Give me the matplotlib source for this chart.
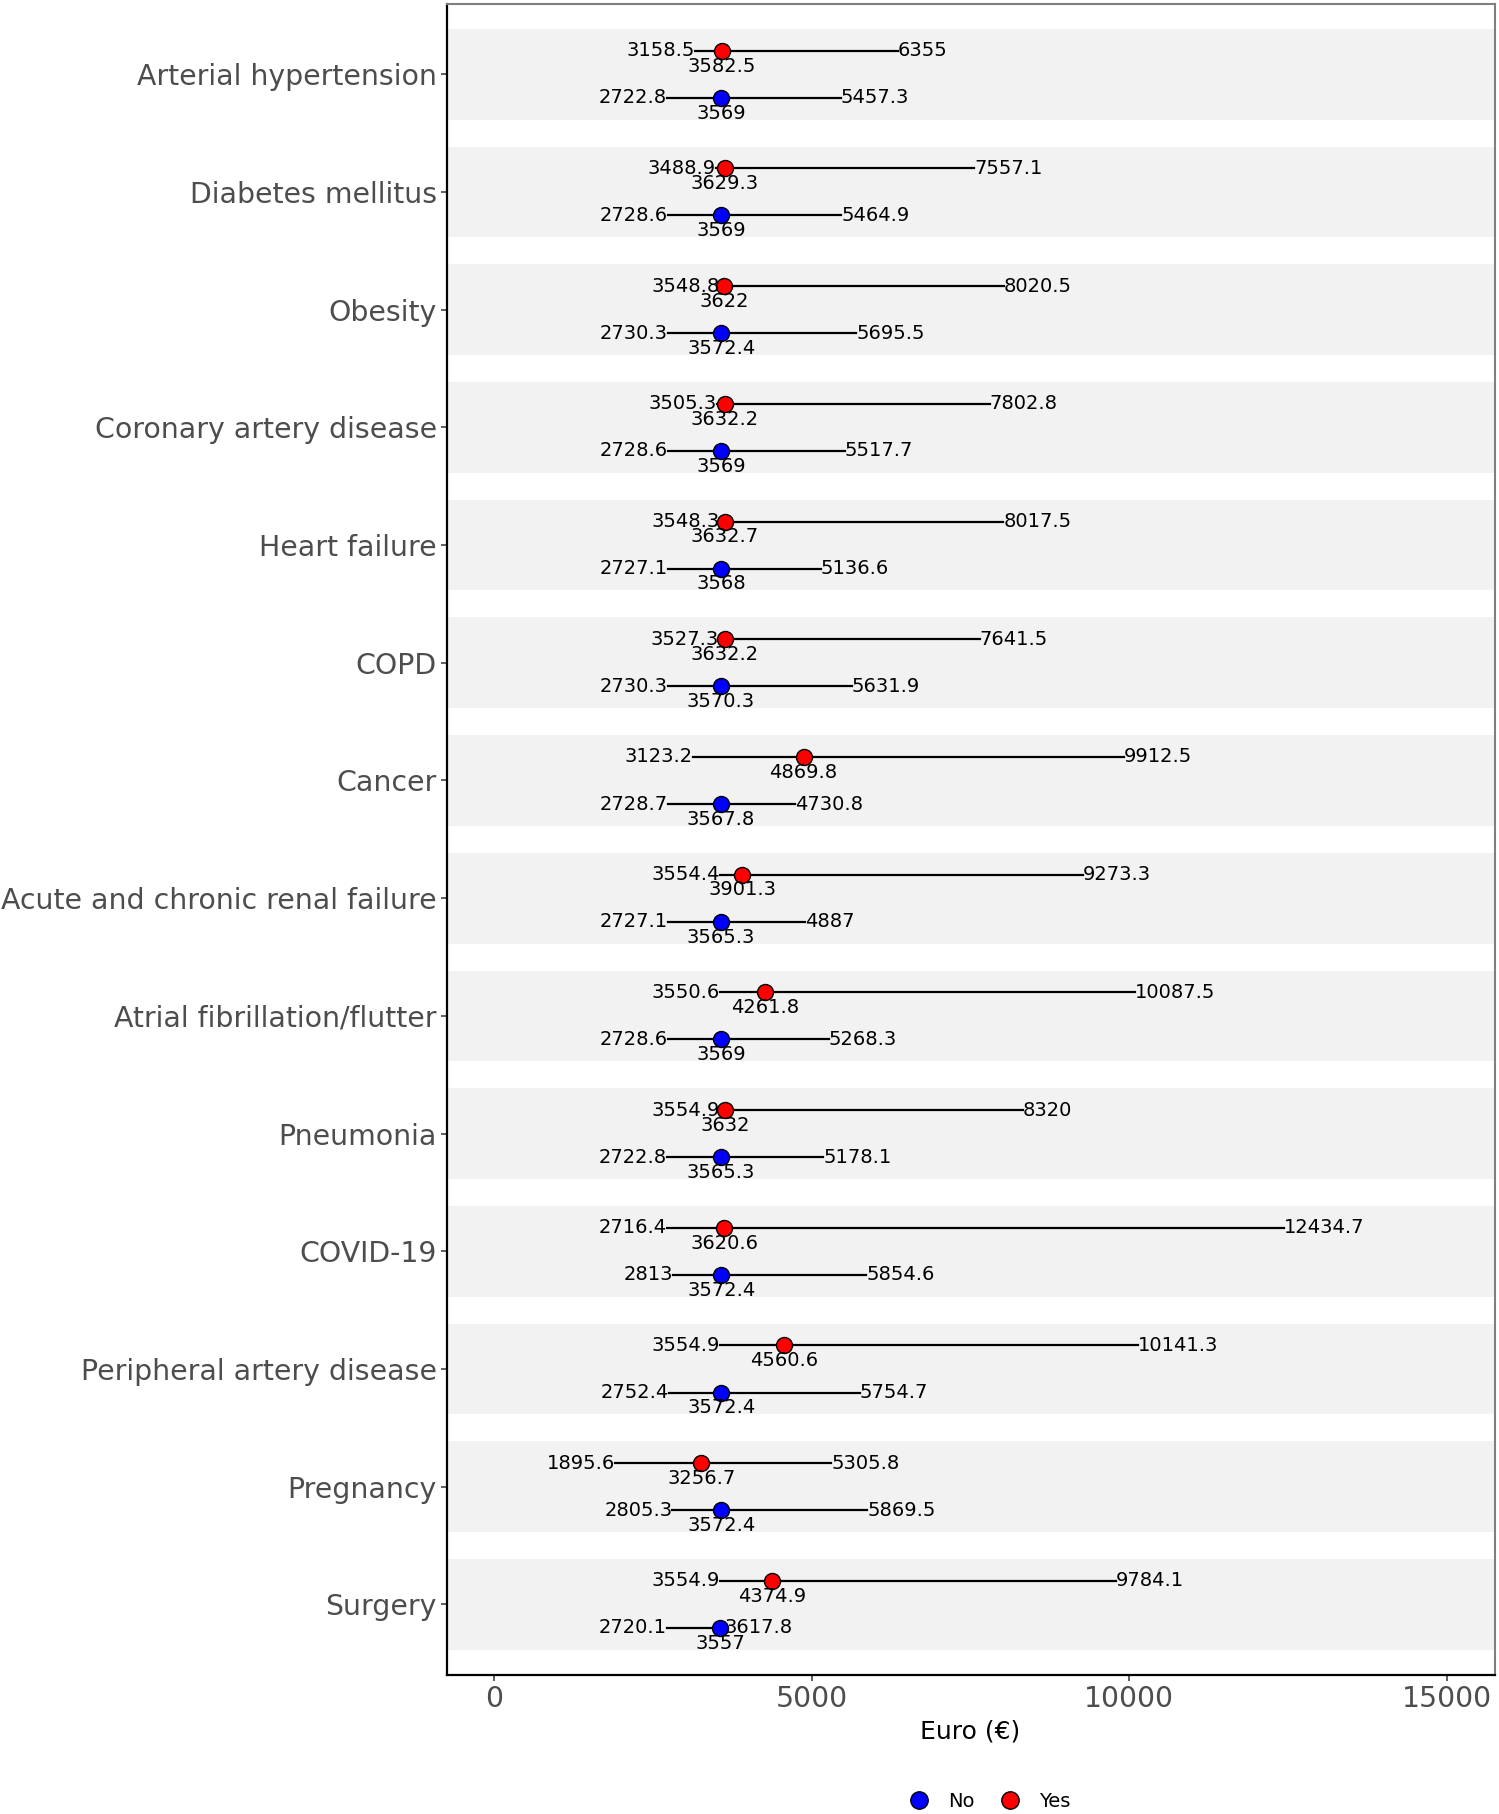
import matplotlib.pyplot as plt
from matplotlib.lines import Line2D
import numpy as np

# conditions, top to bottom
conditions = ["Arterial hypertension", "Diabetes mellitus", "Obesity",
              "Coronary artery disease", "Heart failure", "COPD", "Cancer",
              "Acute and chronic renal failure", "Atrial fibrillation/flutter",
              "Pneumonia", "COVID-19", "Peripheral artery disease",
              "Pregnancy", "Surgery"]

# group "Yes": lower, median, upper
yes_low = [3158.5, 3488.9, 3548.8, 3505.3, 3548.3, 3527.3, 3123.2,
           3554.4, 3550.6, 3554.9, 2716.4, 3554.9, 1895.6, 3554.9]
yes_med = [3582.5, 3629.3, 3622, 3632.2, 3632.7, 3632.2, 4869.8,
           3901.3, 4261.8, 3632, 3620.6, 4560.6, 3256.7, 4374.9]
yes_high = [6355, 7557.1, 8020.5, 7802.8, 8017.5, 7641.5, 9912.5,
            9273.3, 10087.5, 8320, 12434.7, 10141.3, 5305.8, 9784.1]

# group "No": lower, median, upper
no_low = [2722.8, 2728.6, 2730.3, 2728.6, 2727.1, 2730.3, 2728.7,
          2727.1, 2728.6, 2722.8, 2813, 2752.4, 2805.3, 2720.1]
no_med = [3569, 3569, 3572.4, 3569, 3568, 3570.3, 3567.8,
          3565.3, 3569, 3565.3, 3572.4, 3572.4, 3572.4, 3557]
no_high = [5457.3, 5464.9, 5695.5, 5517.7, 5136.6, 5631.9, 4730.8,
           4887, 5268.3, 5178.1, 5854.6, 5754.7, 5869.5, 3617.8]

def fmt(v):
    s = f"{v:.1f}"
    return s[:-2] if s.endswith(".0") else s

fig = plt.figure(figsize=(14.99, 18.14), dpi=100)
ax = fig.add_axes([0.298, 0.0766, 0.699, 0.9214])

ypos = np.arange(1, len(conditions) + 1)
off = 0.2

for i, y in enumerate(ypos):
    ax.axhspan(y - 0.385, y + 0.385, color="#F2F2F2", lw=0, zorder=0)

groups = [(yes_low, yes_med, yes_high, -off, "red"),
          (no_low, no_med, no_high, off, "blue")]
for lo, md, hi, d, col in groups:
    for i, y in enumerate(ypos):
        yy = y + d
        ax.plot([lo[i], hi[i]], [yy, yy], color="black", lw=1.6, zorder=2)
        ax.plot(md[i], yy, "o", ms=11.5, mfc=col, mec="black", mew=1.0, zorder=3)
        ax.text(lo[i], yy, fmt(lo[i]), ha="right", va="center", fontsize=14, zorder=4)
        ax.text(hi[i], yy, fmt(hi[i]), ha="left", va="center", fontsize=14, zorder=4)
        ax.text(md[i], yy + 0.13, fmt(md[i]), ha="center", va="center", fontsize=14, zorder=4)

ax.set_xlim(-750, 15750)
ax.set_ylim(len(conditions) + 0.6, 0.4)
ax.set_yticks(ypos)
ax.set_yticklabels(conditions, fontsize=20.4, color="#4D4D4D")
ax.set_xticks([0, 5000, 10000, 15000])
ax.set_xticklabels(["0", "5000", "10000", "15000"], fontsize=20.4, color="#4D4D4D")
ax.tick_params(axis="both", length=4, width=1.1, color="#333333", pad=3)
ax.set_xlabel("Euro (€)", fontsize=18, labelpad=5)

for s in ["left", "bottom"]:
    ax.spines[s].set_color("black")
    ax.spines[s].set_linewidth(1.6)
for s in ["top", "right"]:
    ax.spines[s].set_color("#7F7F7F")
    ax.spines[s].set_linewidth(1.5)

handles = [Line2D([], [], ls="none", marker="o", ms=12.5, mfc="blue", mec="black", label="No"),
           Line2D([], [], ls="none", marker="o", ms=12.5, mfc="red", mec="black", label="Yes")]
fig.legend(handles=handles, loc="center", bbox_to_anchor=(0.657, 0.007), ncol=2,
           frameon=False, fontsize=14, handletextpad=0.5, columnspacing=0.8)

fig.savefig("out.png", dpi=100)
